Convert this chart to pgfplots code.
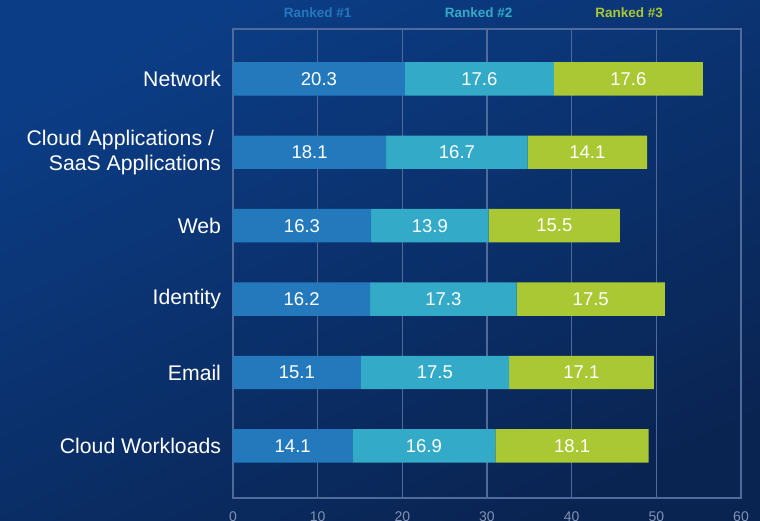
\documentclass[border=0pt]{standalone}
\usepackage{pgfplots}
\pgfplotsset{compat=1.18}
\usepackage{pgfplotstable}
\usepackage{fontspec}
\setmainfont{Liberation Sans}
\definecolor{bgA}{HTML}{0B3D86}
\definecolor{bgB}{HTML}{0A2452}
\definecolor{cA}{HTML}{2479BD}
\definecolor{cB}{HTML}{33AAC7}
\definecolor{cC}{HTML}{A9C833}
\definecolor{gridc}{HTML}{4E6B9C}
\definecolor{tickc}{HTML}{8092B2}
\pgfplotstableread{
y a b c
5 20.3 17.6 17.6
4 18.1 16.7 14.1
3 16.3 13.9 15.5
2 16.2 17.3 17.5
1 15.1 17.5 17.1
0 14.1 16.9 18.1
}\data
\begin{document}
\begin{tikzpicture}
\shade[top color=bgA, bottom color=bgB, shading angle=25] (-233pt,-23pt) rectangle (527pt,498pt);
\begin{axis}[
  at={(0pt,0pt)}, anchor=south west,
  scale only axis, width=508pt, height=469pt,
  xbar stacked, bar width=33.4pt,
  xmin=0, xmax=60, ymin=-0.71, ymax=5.68,
  clip=false,
  xtick={0,10,...,60}, ytick={0,1,2,3,4,5},
  yticklabels={Cloud Workloads, Email, Identity, Web, {Cloud Applications /\hspace*{7pt}\\SaaS Applications}, Network},
  major tick length=0pt,
  xmajorgrids,
  major grid style={gridc, line width=1.2pt},
  axis line style={gridc, line width=1.2pt},
  /pgf/number format/assume math mode=true,
  xticklabel style={font=\fontsize{14}{16}\selectfont, text=tickc, yshift=-10pt},
  yticklabel style={font=\fontsize{21.2}{25}\selectfont, text=white, align=right, xshift=-8.5pt},
  point meta=explicit symbolic,
  nodes near coords={\pgfplotspointmeta},
  every node near coord/.append style={font=\fontsize{18.5}{20}\selectfont, text=white, anchor=center},
]
\addplot[fill=cA, draw=none] table[x=a, y=y, meta=a] {\data};
\addplot[fill=cB, draw=none] table[x=b, y=y, meta=b] {\data};
\addplot[fill=cC, draw=none] table[x=c, y=y, meta=c] {\data};
\node[font=\bfseries\fontsize{13.5}{16}\selectfont, text=cA] at ([yshift=16pt]axis cs:10,5.68) {Ranked \#1};
\node[font=\bfseries\fontsize{13.5}{16}\selectfont, text=cB] at ([yshift=16pt]axis cs:29,5.68) {Ranked \#2};
\node[font=\bfseries\fontsize{13.5}{16}\selectfont, text=cC] at ([yshift=16pt]axis cs:46.8,5.68) {Ranked \#3};
\end{axis}
\pgfresetboundingbox
\path[use as bounding box] (-233pt,-23pt) rectangle (527pt,498pt);
\end{tikzpicture}
\end{document}
